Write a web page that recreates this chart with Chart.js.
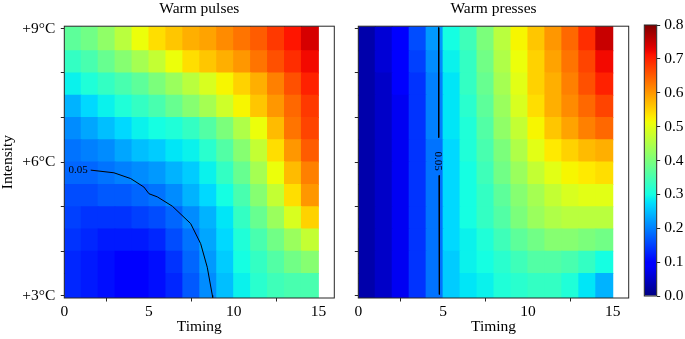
<!DOCTYPE html>
<html><head><meta charset="utf-8">
<script src="https://cdn.jsdelivr.net/npm/chart.js@4.4.1/dist/chart.umd.min.js"></script>
<style>
html,body{margin:0;padding:0;background:#fff;}
#wrap{position:relative;width:685px;height:339px;overflow:hidden;background:#fff;}
canvas{position:absolute;top:0;}
</style></head><body>
<div id="wrap">
<canvas id="cPulses" width="340" height="339" style="left:0px"></canvas>
<canvas id="cPresses" width="300" height="339" style="left:340px"></canvas>
<canvas id="cBar" width="85" height="339" style="left:600px"></canvas>
</div>
<script>
// ---- data ----
const timing = [0.5,1.5,2.5,3.5,4.5,5.5,6.5,7.5,8.5,9.5,10.5,11.5,12.5,13.5,14.5];
const intensity = [3.25,3.75,4.25,4.75,5.25,5.75,6.25,6.75,7.25,7.75,8.25,8.75];
const timingTicks = [0,5,10,15];
const intensityTicks = [3,4,5,6,7,8,9];
const intensityTickLabels = ['+3°C','','','+6°C','','','+9°C'];
const colorbarTicks = [0,0.1,0.2,0.3,0.4,0.5,0.6,0.7,0.8];

// rows listed from lowest intensity (3.25) to highest (8.75)
const warmPulses = [
  [0.13,0.12,0.11,0.10,0.10,0.11,0.13,0.17,0.21,0.25,0.29,0.32,0.34,0.35,0.35],
  [0.13,0.12,0.11,0.10,0.10,0.11,0.14,0.18,0.22,0.26,0.30,0.33,0.36,0.39,0.41],
  [0.14,0.13,0.12,0.12,0.12,0.13,0.16,0.19,0.23,0.27,0.31,0.35,0.39,0.43,0.47],
  [0.15,0.14,0.14,0.14,0.15,0.16,0.18,0.21,0.24,0.28,0.33,0.38,0.43,0.49,0.55],
  [0.16,0.16,0.17,0.17,0.18,0.19,0.21,0.24,0.27,0.30,0.35,0.41,0.47,0.54,0.60],
  [0.18,0.18,0.19,0.20,0.21,0.22,0.24,0.26,0.29,0.33,0.38,0.44,0.51,0.57,0.62],
  [0.19,0.20,0.21,0.23,0.25,0.26,0.28,0.29,0.32,0.36,0.41,0.47,0.54,0.60,0.65],
  [0.21,0.23,0.25,0.27,0.29,0.30,0.31,0.33,0.36,0.40,0.45,0.51,0.57,0.63,0.67],
  [0.24,0.27,0.29,0.31,0.33,0.35,0.38,0.41,0.44,0.48,0.52,0.56,0.60,0.64,0.68],
  [0.29,0.31,0.33,0.35,0.37,0.40,0.43,0.46,0.49,0.52,0.55,0.58,0.62,0.66,0.70],
  [0.33,0.35,0.38,0.41,0.44,0.47,0.51,0.54,0.56,0.58,0.60,0.63,0.66,0.69,0.72],
  [0.37,0.39,0.42,0.46,0.51,0.54,0.56,0.58,0.59,0.61,0.63,0.65,0.68,0.71,0.74]
];
const warmPresses = [
  [0.03,0.05,0.08,0.14,0.19,0.26,0.28,0.29,0.31,0.32,0.33,0.33,0.31,0.28,0.24],
  [0.03,0.05,0.08,0.14,0.19,0.26,0.29,0.30,0.32,0.34,0.36,0.36,0.35,0.33,0.30],
  [0.03,0.05,0.08,0.14,0.19,0.27,0.29,0.31,0.34,0.37,0.39,0.41,0.41,0.40,0.39],
  [0.03,0.05,0.08,0.14,0.19,0.27,0.30,0.33,0.36,0.40,0.43,0.45,0.46,0.46,0.46],
  [0.03,0.05,0.08,0.14,0.19,0.27,0.30,0.33,0.37,0.41,0.44,0.47,0.49,0.50,0.50],
  [0.03,0.05,0.08,0.14,0.19,0.27,0.30,0.34,0.39,0.43,0.47,0.50,0.52,0.53,0.54],
  [0.03,0.05,0.08,0.14,0.19,0.27,0.31,0.35,0.40,0.45,0.50,0.53,0.55,0.57,0.58],
  [0.03,0.05,0.08,0.14,0.20,0.28,0.31,0.36,0.42,0.47,0.52,0.56,0.59,0.62,0.64],
  [0.03,0.05,0.08,0.14,0.20,0.28,0.32,0.37,0.43,0.49,0.54,0.58,0.61,0.64,0.67],
  [0.03,0.05,0.09,0.14,0.20,0.28,0.33,0.38,0.44,0.50,0.55,0.58,0.62,0.66,0.70],
  [0.03,0.06,0.09,0.15,0.21,0.29,0.33,0.39,0.45,0.51,0.55,0.59,0.63,0.67,0.72],
  [0.03,0.06,0.10,0.16,0.22,0.30,0.34,0.40,0.46,0.52,0.56,0.60,0.64,0.69,0.75]
];
// 0.05 contour lines (timing, intensity)
const pulsesContourT = [1.56,2.93,3.92,4.70,5.00,5.49,6.38,7.46,8.05,8.44,8.74,8.76];
const pulsesContourI = [5.82,5.76,5.63,5.44,5.29,5.22,5.01,4.62,4.17,3.64,3.01,2.95];
const pressesContourT = [4.74,4.74,null,4.76,4.78];
const pressesContourI = [9.02,6.55,null,5.70,3.03];
const contourLabel = '0.05';

// ---- styling / helpers ----
const FONT = "'Liberation Serif','Times New Roman',Times,serif";
const FS = 15.5;
const VMAX = 0.8;
const Y_MIN = 2.95, Y_MAX = 9.05, X_MIN = 0, X_MAX = 15.94;
const FRAME = '#262626';
Chart.defaults.font.family = FONT;
Chart.defaults.font.size = FS;
Chart.defaults.color = '#000';

function lerpTable(n, tab){
  for (let i=1;i<tab.length;i++){
    if (n <= tab[i][0]){
      const [x0,y0]=tab[i-1],[x1,y1]=tab[i];
      return y0 + (y1-y0)*(n-x0)/(x1-x0);
    }
  }
  return tab[tab.length-1][1];
}
function jet(v){
  const n = Math.max(0, Math.min(1, v/VMAX));
  const r = lerpTable(n, [[0,0],[0.35,0],[0.66,1],[0.89,1],[1,0.5]]);
  const g = lerpTable(n, [[0,0],[0.125,0],[0.375,1],[0.64,1],[0.91,0],[1,0]]);
  const b = lerpTable(n, [[0,0.5],[0.11,1],[0.34,1],[0.65,0],[1,0]]);
  return `rgb(${Math.round(r*255)},${Math.round(g*255)},${Math.round(b*255)})`;
}

function heatDatasets(values){
  const half = (intensity[1]-intensity[0])/2;
  return intensity.map((yc, r) => ({
    type:'bar',
    data: timing.map(t => ({x:t, y:[r===0 ? Y_MIN : yc-half, r===intensity.length-1 ? Y_MAX : yc+half]})),
    backgroundColor: values[r].map(jet),
    borderWidth:0, grouped:false, barPercentage:1, categoryPercentage:1,
    inflateAmount:0.5, order:1
  }));
}
function contourDataset(ts, is){
  return {
    type:'line',
    data: ts.map((t,i)=>({x:t, y:is[i]})),
    borderColor:'#000', borderWidth:1, pointRadius:0, fill:false, tension:0,
    spanGaps:false, order:-1
  };
}

function framePlugin(id){
  return {id, afterDatasetsDraw(chart){
    const {ctx, chartArea:a} = chart;
    ctx.save(); ctx.strokeStyle = FRAME; ctx.lineWidth = 1;
    ctx.strokeRect(a.left, a.top, a.right-a.left, a.bottom-a.top);
    ctx.restore();
  }};
}
function titlePlugin(id, text){
  return {id, afterDraw(chart){
    const {ctx, chartArea:a} = chart;
    ctx.save(); ctx.font = `${FS}px ${FONT}`; ctx.fillStyle = '#000';
    ctx.textAlign = 'center'; ctx.textBaseline = 'alphabetic';
    ctx.fillText(text, (a.left+a.right)/2, 12.5);
    ctx.restore();
  }};
}
function labelPlugin(id, t, i, rot){
  return {id, afterDatasetsDraw(chart){
    const {ctx, scales} = chart;
    const px = scales.x.getPixelForValue(t), py = scales.y.getPixelForValue(i);
    ctx.save(); ctx.translate(px, py); ctx.rotate(rot);
    ctx.font = `11px ${FONT}`; ctx.fillStyle = '#000';
    ctx.textAlign = 'center'; ctx.textBaseline = 'middle';
    ctx.fillText(contourLabel, 0, 0);
    ctx.restore();
  }};
}

function panelScales(showYLabels, yWidth){
  const gridCfg = {display:true, drawOnChartArea:false, drawTicks:true, tickLength:3.5, tickColor:FRAME, color:FRAME};
  return {
    x:{type:'linear', min:X_MIN, max:X_MAX, offset:false,
      afterBuildTicks: s => { s.ticks = timingTicks.map(v=>({value:v})); },
      afterFit: s => { s.height = 41; },
      grid: gridCfg, border:{display:false},
      ticks:{padding:1.5, maxRotation:0, autoSkip:false, callback:v=>String(v)},
      title:{display:true, text:'Timing', padding:{top:0,bottom:3}, font:{size:FS}}
    },
    y:{type:'linear', min:Y_MIN, max:Y_MAX,
      afterBuildTicks: s => { s.ticks = intensityTicks.map(v=>({value:v})); },
      afterFit: s => { s.width = yWidth; },
      grid: gridCfg, border:{display:false},
      ticks:{padding:5.5, autoSkip:false,
        callback:(v)=> showYLabels ? (intensityTickLabels[intensityTicks.indexOf(v)] ?? '') : ''},
      title:{display:showYLabels, text:'Intensity', padding:{top:0,bottom:0}, font:{size:FS, lineHeight:1}}
    }
  };
}

const common = {responsive:false, animation:false, events:[],
  plugins:{legend:{display:false}, tooltip:{enabled:false}, title:{display:false}}};

new Chart(document.getElementById('cPulses'), {
  type:'bar',
  data:{datasets:[contourDataset(pulsesContourT, pulsesContourI), ...heatDatasets(warmPulses)]},
  options:{...common, layout:{padding:{left:0, right:5.7, top:26.2, bottom:0}},
    scales: panelScales(true, 64.3)},
  plugins:[framePlugin('f1'), titlePlugin('t1','Warm pulses'), labelPlugin('l1', 0.81, 5.82, 0)]
});

new Chart(document.getElementById('cPresses'), {
  type:'bar',
  data:{datasets:[contourDataset(pressesContourT, pressesContourI), ...heatDatasets(warmPresses)]},
  options:{...common, layout:{padding:{left:0, right:11.3, top:26.2, bottom:0}},
    scales: panelScales(false, 18.3)},
  plugins:[framePlugin('f2'), titlePlugin('t2','Warm presses'), labelPlugin('l2', 4.70, 6.02, Math.PI/2)]
});

new Chart(document.getElementById('cBar'), {
  type:'bar',
  data:{labels:['colorbar'], datasets:[{
    data:[[colorbarTicks[0], colorbarTicks[colorbarTicks.length-1]]],
    backgroundColor:(c)=>{
      const a = c.chart.chartArea;
      if (!a) return jet(0.4);
      const g = c.chart.ctx.createLinearGradient(0, a.bottom, 0, a.top);
      for (let k=0;k<=64;k++){ g.addColorStop(k/64, jet(VMAX*k/64)); }
      return g;
    },
    borderWidth:0, barPercentage:1, categoryPercentage:1, inflateAmount:0
  }]},
  options:{...common, layout:{padding:{left:44.3, right:0, top:25, bottom:43}},
    scales:{
      x:{display:false},
      y:{position:'right', min:0, max:VMAX,
        afterBuildTicks: s => { s.ticks = colorbarTicks.map(v=>({value:v})); },
        afterFit: s => { s.width = 28.3; },
        grid:{display:true, drawOnChartArea:false, drawTicks:true, tickLength:3.5, tickColor:FRAME, color:FRAME},
        border:{display:false},
        ticks:{padding:4, callback:v=>Number(v).toFixed(1)}
      }
    }},
  plugins:[framePlugin('f3')]
});
</script>
</body></html>
